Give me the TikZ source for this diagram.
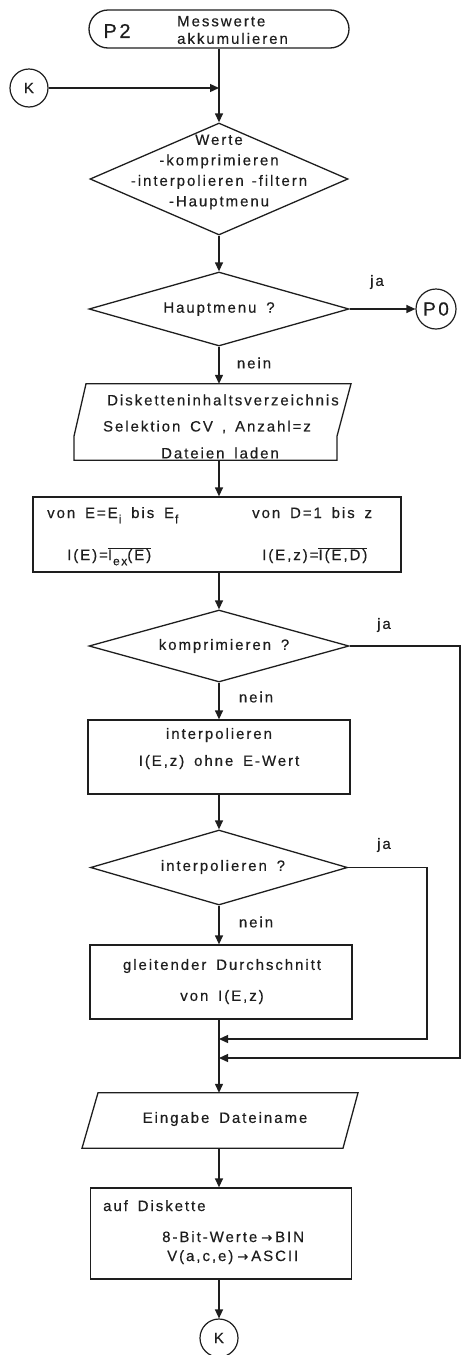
\documentclass[tikz,border=0pt]{standalone}
\usepackage{fontspec}
\setmainfont{Liberation Sans}[LetterSpace=13, WordSpace=1.6, FakeBold=0.4]
\newfontfamily\arrowfont{DejaVu Sans}[FakeBold=0.6]
\usetikzlibrary{shapes.geometric,arrows.meta,calc}

\newcommand\fsz[2]{\fontsize{#1pt}{#2pt}\selectfont}
\newcommand\lowsub[1]{\hspace{1pt}\raisebox{-0.35em}{\fsz{12}{12}#1}}
\newcommand\rarr{\hspace{4pt}{\arrowfont\fsz{13}{13}→}\hspace{3pt}}
\definecolor{ink}{HTML}{1E1E1E}

\tikzset{
  flow/.style={line width=1.3pt, draw=ink},
  arr/.style={flow, -{Triangle[length=9pt,width=8pt]}},
  procbox/.style={draw=ink, line width=1.3pt, rectangle, inner sep=0pt},
  decision/.style={draw=ink, line width=1.3pt, diamond, inner sep=0pt},
  connector/.style={draw=ink, line width=1.2pt, circle, minimum size=38pt,
    inner sep=0pt, font=\fsz{15}{15}, text=ink},
  txt/.style={inner sep=0pt, font=\fsz{15}{18}, align=center, text=ink},
}

\begin{document}
\begin{tikzpicture}[x=1pt, y=-1pt]
\useasboundingbox (0,0) rectangle (462,1355);

% ---- start terminal and entry connector
\node[procbox, rounded corners=19pt, minimum width=260pt, minimum height=38pt] (start) at (219,29) {};
\node[txt, font=\fsz{20}{20}] (ptwo) at (117,31) {P2};
\node[txt, align=left, anchor=west, font=\fsz{15}{17.5}] (tmsg) at (177,30) {Messwerte\\akkumulieren};

\node[connector] (kin) at (29,88) {K};
\coordinate (jk) at (219,88);

% ---- selection of the processing mode
\node[decision, minimum width=258pt, minimum height=112pt] (dsel) at (219,179) {};
\node[txt, font=\fsz{15}{20.5}] (tsel) at (219,172)
  {Werte\\-komprimieren\\-interpolieren\hspace{8pt}-filtern\\-Hauptmenu};

\node[decision, minimum width=260pt, minimum height=74pt] (dmenu) at (219,309) {};
\node[txt] (tmenu) at (219,309) {Hauptmenu ?};
\node[connector, minimum size=40pt, font=\fsz{19}{19}] (pzero) at (436,309) {P0};
\node[txt] (jamenu) at (377,282) {ja};
\node[txt] (neinmenu) at (254,363) {nein};

% ---- directory / file loading (input shape with straight lower part)
\node[inner sep=0pt, minimum width=264pt, minimum height=76pt] (dir) at (219,422) {};
\draw[flow] ($(dir.north)+(-133,0)$) -- ($(dir.north)+(132,0)$)
  -- ($(dir.south)+(118,-24)$) -- ($(dir.south)+(118,0)$)
  -- ($(dir.south)+(-145,0)$) -- ($(dir.south)+(-145,-24)$) -- cycle;
\node[txt] (tdir1) at (223,400) {Disketteninhaltsverzeichnis};
\node[txt] (tdir2) at (207,427) {Selektion CV\hspace{9pt},\hspace{9pt}Anzahl=z};
\node[txt] (tdir3) at (220,453) {Dateien laden};

% ---- averaging box
\node[procbox, minimum width=368pt, minimum height=75pt] (avg) at (217,534.5) {};
\node[txt, anchor=base west] (tavg1) at (47,518) {von E=E\lowsub{i} bis E\lowsub{f}};
\node[txt, anchor=base west] (tavg2) at (252,518) {von D=1 bis z};
\node[txt, anchor=base west] (tavg3) at (67,560) {I(E)=$\overline{\hbox{I\lowsub{ex}(E)}}$};
\node[txt, anchor=base west] (tavg4) at (262,560) {I(E,z)=$\overline{\hbox{I(E,D)}}$};

% ---- compress?
\node[decision, minimum width=260pt, minimum height=72pt] (dcomp) at (219,646) {};
\node[txt] (tcomp) at (224,646) {komprimieren ?};
\node[txt] (jacomp) at (384,625) {ja};
\node[txt] (neincomp) at (256,697) {nein};

\node[procbox, minimum width=262pt, minimum height=74pt] (interp) at (219,757) {};
\node[txt, font=\fsz{15}{27}] (tinterp) at (219,748.5) {interpolieren\\I(E,z) ohne E-Wert};

% ---- interpolate?
\node[decision, minimum width=257pt, minimum height=75pt] (dint) at (219,867.5) {};
\node[txt] (tint) at (223,867) {interpolieren ?};
\node[txt] (jaint) at (384,845) {ja};
\node[txt] (neinint) at (256,922) {nein};

\node[procbox, minimum width=262pt, minimum height=74pt] (smooth) at (221,982) {};
\node[txt, font=\fsz{15}{31}] (tsmooth) at (222,981.5) {gleitender Durchschnitt\\von I(E,z)};

% ---- merge points of the bypass lines
\coordinate (mint) at (219,1039);
\coordinate (mcomp) at (219,1058);
\coordinate (xint) at (427,0);
\coordinate (xcomp) at (460,0);

% ---- file name input
\node[inner sep=0pt, minimum width=260pt, minimum height=55pt] (fname) at (219,1120.5) {};
\draw[flow] ($(fname.north)+(-121,0)$) -- ($(fname.north)+(139,0)$)
  -- ($(fname.south)+(124,0)$) -- ($(fname.south)+(-137,0)$) -- cycle;
\node[txt] (tfname) at (225,1119) {Eingabe Dateiname};

% ---- write to disk
\node[procbox, minimum width=261pt, minimum height=91pt] (save) at (221,1233.5) {};
\node[txt, anchor=base west] (tsave1) at (103,1211) {auf Diskette};
\node[txt, anchor=base west] (tsave2) at (162,1242) {8-Bit-Werte\rarr BIN};
\node[txt, anchor=base west] (tsave3) at (167,1261) {V(a,c,e)\rarr ASCII};

\node[connector] (kout) at (219,1338) {K};

% ---- connectors
\draw[arr] (start.south) -- (dsel.north);
\draw[arr] (kin.east) -- (jk);
\draw[arr] (dsel.south) -- (dmenu.north);
\draw[arr] (dmenu.east) -- (pzero.west);
\draw[arr] (dmenu.south) -- (dir.north);
\draw[arr] (dir.south) -- (dir.south |- avg.north);
\draw[arr] (dir.south |- avg.south) -- (dcomp.north);
\draw[arr] (dcomp.south) -- (interp.north);
\draw[arr] (interp.south) -- (dint.north);
\draw[arr] (dint.south) -- (dint.south |- smooth.north);
\draw[arr] (dint.south |- smooth.south) -- (fname.north);
\draw[arr] (dint.east) -- (dint.east -| xint) |- (mint);
\draw[arr] (dcomp.east) -- (dcomp.east -| xcomp) |- (mcomp);
\draw[arr] (fname.south) -- (fname.south |- save.north);
\draw[arr] (fname.south |- save.south) -- (kout.north);
\end{tikzpicture}
\end{document}
